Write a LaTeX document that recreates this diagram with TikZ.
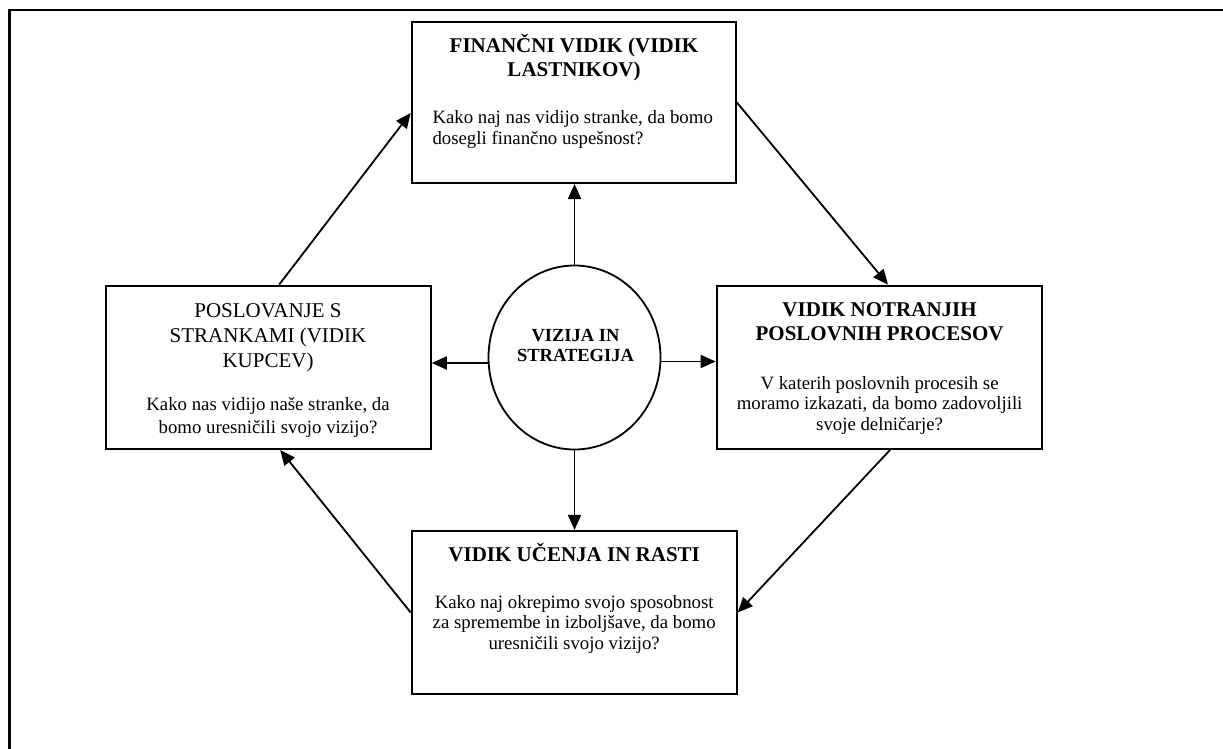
\documentclass[tikz,border=0pt]{standalone}
\usepackage{fontspec}
\setmainfont{Liberation Serif}
\usetikzlibrary{arrows.meta,shapes.geometric,calc}
\begin{document}
\begin{tikzpicture}[x=1pt,y=-1pt,
  panel/.style={draw, line width=2.1pt, rectangle, inner sep=0pt},
  % multi-line texts are placed by the baseline of their last line
  head/.style={inner sep=0pt, anchor=base, align=center, font=\fontsize{21}{24.2}\selectfont},
  headbf/.style={head, font=\fontsize{21}{24.2}\selectfont\bfseries},
  body/.style={inner sep=0pt, anchor=base, align=center, font=\fontsize{18.8}{20.4}\selectfont},
  link/.style={line width=1.8pt, -{Triangle[length=15pt,width=13pt]}},
]
\useasboundingbox (0,0) rectangle (1223,749);
% page frame (runs off the right and bottom edges)
\begin{scope}
  \clip (0,0) rectangle (1223,749);
  \draw[line width=2.2pt] (9.5,770) -- (9.5,10) -- (1240,10);
\end{scope}

% four perspective panels
\node[panel, minimum width=324pt, minimum height=161.3pt] (fin) at (573.7,102.3) {};
\node[panel, minimum width=325pt, minimum height=163.3pt] (cust) at (268.2,367.3) {};
\node[panel, minimum width=325.6pt, minimum height=163.3pt] (proc) at (879.5,367.3) {};
\node[panel, minimum width=325pt, minimum height=163pt] (learn) at (574.2,612.5) {};

% central vision node
\node[draw, ellipse, line width=1.8pt, minimum width=172pt, minimum height=184pt, inner sep=0pt] (core) at (574.5,357.5) {};
\node[inner sep=0pt, anchor=base, align=center, font=\fontsize{18.5}{20.7}\selectfont\bfseries] (coreT) at (575.5,361.7) {VIZIJA IN\\STRATEGIJA};

% panel texts
\node[headbf] (finH) at (574,76.7) {FINANČNI VIDIK (VIDIK\\LASTNIKOV)};
\node[body, anchor=base west, align=left] (finB) at (432.3,144.3) {Kako naj nas vidijo stranke, da bomo\\dosegli finančno uspešnost?};

\node[head, font=\fontsize{21}{24.8}\selectfont] (custH) at (268,367.3) {POSLOVANJE S\\STRANKAMI (VIDIK\\KUPCEV)};
\node[body, font=\fontsize{18.8}{23.2}\selectfont] (custB) at (268,433.3) {Kako nas vidijo naše stranke, da\\bomo uresničili svojo vizijo?};

\node[headbf] (procH) at (879.6,340.7) {VIDIK NOTRANJIH\\POSLOVNIH PROCESOV};
\node[body] (procB) at (879.6,430) {V katerih poslovnih procesih se\\moramo izkazati, da bomo zadovoljili\\svoje delničarje?};

\node[headbf] (learnH) at (574.2,561.7) {VIDIK UČENJA IN RASTI};
\node[body] (learnB) at (574.2,649.3) {Kako naj okrepimo svojo sposobnost\\za spremembe in izboljšave, da bomo\\uresničili svojo vizijo?};

% cycle around the panels
\draw[link] ($(cust.north)+(11,0)$) -- ($(fin.west)+(0,10.7)$);
\draw[link] (fin.east) -- ($(proc.north)+(8.5,0)$);
\draw[link] ($(proc.south)+(10.5,0)$) -- (learn.east);
\draw[link] (learn.west) -- ($(cust.south)+(12,0)$);

% spokes from the vision node
\draw[link] (core.north) -- (core.north |- fin.south);
\draw[link] (core.south) -- (core.south |- learn.north);
\draw[link] ($(core.west)+(0,5.5)$) coordinate (cw) -- (cw -| cust.east);
\draw[link] ($(core.east)+(0,4)$) coordinate (ce) -- (ce -| proc.west);
\end{tikzpicture}
\end{document}
